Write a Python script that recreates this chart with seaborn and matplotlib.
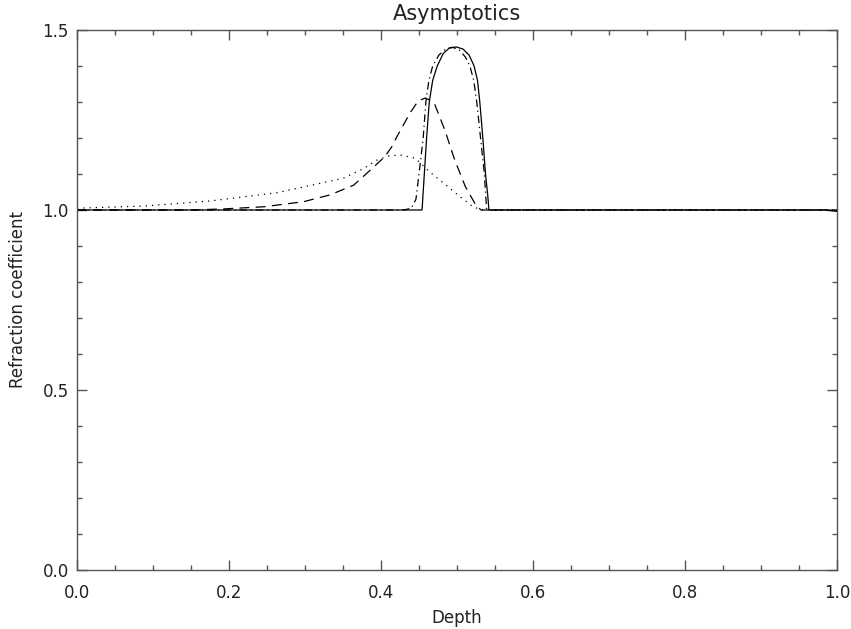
import matplotlib
matplotlib.use("Agg")
import matplotlib.pyplot as plt
import seaborn as sns
import pandas as pd
from matplotlib.ticker import MultipleLocator, FormatStrFormatter

# values
solid_x = [0.0, 0.454, 0.4555, 0.457, 0.460, 0.4635, 0.468, 0.474, 0.482, 0.490, 0.499,
           0.508, 0.516, 0.5225, 0.527, 0.530, 0.534, 0.5375, 0.5405, 0.542, 0.985, 1.0]
solid_y = [1.0, 1.0, 1.05, 1.1, 1.2, 1.3, 1.36, 1.4, 1.435, 1.45, 1.453,
           1.447, 1.43, 1.4, 1.36, 1.3, 1.2, 1.1, 1.04, 1.0, 1.0, 0.996]

dashdot_x = [0.0, 0.430, 0.440, 0.446, 0.450, 0.4555, 0.459, 0.463, 0.468, 0.476, 0.485, 0.494,
             0.503, 0.511, 0.517, 0.522, 0.526, 0.531, 0.536, 0.539, 1.0]
dashdot_y = [1.0, 1.0, 1.005, 1.03, 1.1, 1.2, 1.3, 1.36, 1.4, 1.43, 1.447, 1.452,
             1.445, 1.425, 1.4, 1.36, 1.3, 1.2, 1.1, 1.0, 1.0]

dashed_x = [0.0, 0.15, 0.193, 0.246, 0.298, 0.333, 0.364, 0.386, 0.405, 0.414, 0.421, 0.438,
            0.449, 0.458, 0.465, 0.471, 0.484, 0.497, 0.511, 0.526, 0.532, 1.0]
dashed_y = [1.0, 1.0, 1.003, 1.009, 1.023, 1.042, 1.069, 1.111, 1.148, 1.175, 1.204, 1.269,
            1.303, 1.311, 1.305, 1.292, 1.222, 1.139, 1.065, 1.009, 1.0, 1.0]

dotted_x = [0.0, 0.088, 0.175, 0.263, 0.350, 0.377, 0.394, 0.410, 0.425, 0.445, 0.464,
            0.482, 0.504, 0.521, 0.533, 1.0]
dotted_y = [1.005, 1.011, 1.025, 1.048, 1.088, 1.115, 1.138, 1.15, 1.153, 1.144, 1.106,
            1.075, 1.037, 1.009, 1.0, 1.0]

x_ticks = [0.0, 0.2, 0.4, 0.6, 0.8, 1.0]
y_ticks = [0.0, 0.5, 1.0, 1.5]

sns.set_style("ticks")
plt.rcParams['font.family'] = ['DejaVu Sans']

fig = plt.figure(figsize=(8.51, 6.29), dpi=100)
ax = fig.add_axes([77 / 851, 59 / 629, 760 / 851, 540 / 629])

curves = [
    (solid_x, solid_y, "-"),
    (dashdot_x, dashdot_y, (0, (6, 3, 1, 3))),
    (dashed_x, dashed_y, (0, (8, 5))),
    (dotted_x, dotted_y, (0, (1, 4))),
]
for xs, ys, ls in curves:
    df = pd.DataFrame({"depth": xs, "coef": ys})
    sns.lineplot(data=df, x="depth", y="coef", ax=ax, color="black",
                 linewidth=0.9, linestyle=ls, sort=False)

ax.set_xlim(0, 1)
ax.set_ylim(0, 1.5)
ax.set_xticks(x_ticks)
ax.set_yticks(y_ticks)
ax.xaxis.set_major_formatter(FormatStrFormatter("%.1f"))
ax.yaxis.set_major_formatter(FormatStrFormatter("%.1f"))
ax.xaxis.set_minor_locator(MultipleLocator(0.05))
ax.yaxis.set_minor_locator(MultipleLocator(0.1))
ax.tick_params(which="both", direction="in", top=True, right=True,
               color="#555555", width=1.0, labelsize=12, labelcolor="#222222")
ax.tick_params(axis="x", which="major", pad=10)
ax.tick_params(axis="y", which="major", pad=6)
ax.tick_params(which="major", length=7)
ax.tick_params(which="minor", length=3.6)
for sp in ax.spines.values():
    sp.set_color("#555555")
    sp.set_linewidth(1.0)

ax.set_title("Asymptotics", fontsize=15, pad=7, color="#222222")
ax.set_xlabel("Depth", fontsize=12, labelpad=5, color="#222222")
ax.set_ylabel("Refraction coefficient", fontsize=12, labelpad=11, color="#222222")

fig.savefig("out.png", dpi=100)
